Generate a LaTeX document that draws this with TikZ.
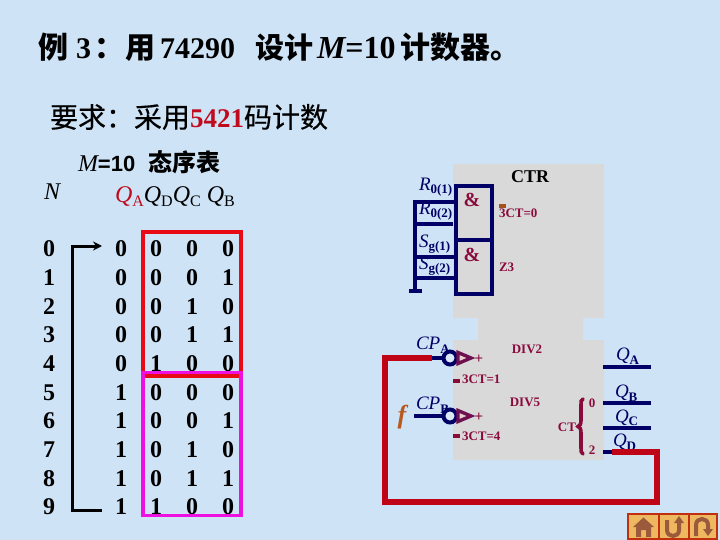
\documentclass[tikz,border=0pt]{standalone}
\usepackage{fontspec}
\usetikzlibrary{arrows.meta}
\setmainfont{Liberation Serif}
\setsansfont{Liberation Sans}
\newfontfamily\cjk{Noto Sans CJK SC}
\newfontfamily\cjkm[FakeBold=0.35]{Noto Sans CJK SC}
\definecolor{bgblue}{HTML}{CFE3F6}
\definecolor{ctrgray}{HTML}{D9D9D9}
\definecolor{navy}{HTML}{000066}
\definecolor{wine}{HTML}{8A0A3C}
\definecolor{wirered}{HTML}{C00418}
\definecolor{boxred}{HTML}{E80A14}
\definecolor{boxmag}{HTML}{EE10E0}
\definecolor{tri}{HTML}{6E1050}
\definecolor{fbrown}{HTML}{B85A20}
\definecolor{qred}{HTML}{C00A1E}
\definecolor{navfill}{HTML}{EDB860}
\definecolor{navedge}{HTML}{C03010}
\definecolor{navicon}{HTML}{9C5A3C}
\newcommand{\fs}[1]{\fontsize{#1}{#1}\selectfont}
\tikzset{
  txt/.style={inner sep=0pt,outer sep=0pt},
  digit/.style={txt,font=\fs{24}\bfseries,text=black},
  wine12/.style={txt,anchor=west,font=\fs{13}\bfseries,text=wine},
  sig/.style={txt,anchor=west,font=\fs{19}\itshape,text=navy},
  nwire/.style={draw=navy,line width=3.4pt},
  rwire/.style={draw=wirered,line width=5.4pt,line join=miter},
  ring/.style={circle,draw=navy,line width=4pt,minimum size=13pt,inner sep=0pt,fill=white!20!bgblue},
  clk/.style={draw=tri,line width=3.4pt,line join=miter,fill=ctrgray!60!pink},
  navbtn/.style={draw=navedge,line width=1.2pt,fill=navfill},
  navic/.style={draw=navicon,line width=4pt},
}
\newcommand{\subsz}[1]{\raisebox{-3.5pt}{\fs{13}\bfseries\upshape #1}}
\newcommand{\hs}[1]{\hspace{#1pt}}
\begin{document}
\begin{tikzpicture}[x=1pt,y=-1pt]
\useasboundingbox (0,0) rectangle (720,540);
\fill[bgblue] (0,0) rectangle (720,540);
% gray block
\fill[ctrgray] (453,164) -- (604,164) -- (604,318) -- (583,318) -- (583,340) -- (604,340) -- (604,460) -- (453,460) -- (453,340) -- (478,340) -- (478,318) -- (453,318) -- cycle;
% title
\node[txt,anchor=west] (title) at (38,47) {\cjk\bfseries\fs{30}例\hs{8}{\rmfamily 3}\hs{3}：\hs{2}用\hs{4}{\rmfamily 74290}\hs{20}{\fs{29}设计}\hs{4}{\rmfamily\fs{32}\itshape M\upshape =10}\hs{4.4}计数器。};
\node[txt,anchor=west] (req) at (50,117) {\cjkm\fs{28}要求：采用{\rmfamily\bfseries\color{qred}\fs{27}5421}{\fs{28}码计数}};
\node[txt,anchor=west] (tabt) at (78,162) {{\rmfamily\fs{24}\itshape M}{\sffamily\bfseries\fs{22}=10\hs{13}}{\cjk\bfseries\fs{24}态序表}};
\node[txt,anchor=west,font=\fs{24}\itshape] (nh) at (44,192) {N};
\node[txt,anchor=west,font=\fs{24}\itshape] (qh) at (115,197) {{\color{qred}Q{\upshape\raisebox{-4pt}{\fs{16}A}}}Q{\upshape\raisebox{-4pt}{\fs{16}D}}Q{\upshape\raisebox{-4pt}{\fs{16}C}} Q{\upshape\raisebox{-4pt}{\fs{16}B}}};
% table
\foreach \n/\a/\d/\c/\b [count=\i from 0] in {0/0/0/0/0,1/0/0/0/1,2/0/0/1/0,3/0/0/1/1,4/0/1/0/0,5/1/0/0/0,6/1/0/0/1,7/1/0/1/0,8/1/0/1/1,9/1/1/0/0}{
  \pgfmathsetmacro{\yy}{249+28.67*\i}
  \node[digit] (n\i) at (49,\yy) {\n};
  \node[digit] (a\i) at (121,\yy) {\a};
  \node[digit] (d\i) at (156,\yy) {\d};
  \node[digit] (c\i) at (192,\yy) {\c};
  \node[digit] (b\i) at (228,\yy) {\b};
}
% bracket
\coordinate (bt) at (102,246);
\coordinate (bb) at (102,510);
\draw[black,line width=3pt,-{Stealth[length=9pt,width=9pt]}] (bb) -- (72,510) -- (72,246) -- (bt);
% boxes
\draw[boxred,line width=3.6pt] (143,232) rectangle (241,376);
\draw[boxmag,line width=3.6pt] (143,373) rectangle (241,515.5);
\draw[boxred,line width=3.6pt] (144.8,376) -- (239.2,376);
% and boxes
\node[txt,font=\fs{18}\bfseries,text=black] (ctr) at (530,177) {CTR};
\draw[nwire,fill=none] (456,186) rectangle (492,294);
\draw[nwire] (456,240) -- (492,240);
\node[txt,font=\fs{20}\bfseries,text=wine] (amp1) at (472,200) {\&};
\node[txt,font=\fs{20}\bfseries,text=wine] (amp2) at (472,255) {\&};
% inputs
\node[sig] (r1) at (419,187) {R\subsz{0(1)}};
\node[sig] (r2) at (419,211) {R\subsz{0(2)}};
\node[sig] (s1) at (419,244) {S\subsz{g(1)}};
\node[sig] (s2) at (419,266) {S\subsz{g(2)}};
\coordinate (g) at (415,291);
\draw[nwire,line join=miter] (g) |- (456,202);
\draw[nwire] (415,224) -- (453,224);
\draw[nwire] (415,257) -- (456,257);
\draw[nwire] (415,278) -- (456,278);
\draw[navy,line width=4pt] (409,291) -- (422,291);
\fill[fbrown!90!black] (499,204) rectangle (506,208);
\node[wine12] (c0) at (499,213) {3CT=0};
\node[wine12] (z3) at (499,267) {Z3};
% clocks
\node[sig] (cpa) at (416,345) {CP\subsz{A}};
\node[sig] (cpb) at (416,405) {CP\subsz{B}};
\node[txt,font=\fs{26}\bfseries\itshape,text=fbrown] (f) at (402,417) {f};
\coordinate (awire) at (432,358);
\node[ring] (ra) at (450,358) {};
\node[ring] (rb) at (450,416) {};
\draw[nwire] (awire) -- (ra);
\coordinate (bwire) at (414,416);
\draw[nwire] (bwire) -- (rb);
\draw[clk] (458,352.5) -- (471,358) -- (458,363.5) -- cycle;
\draw[clk] (458,410.5) -- (471,416) -- (458,421.5) -- cycle;
\node[txt,font=\fs{15}\bfseries,text=wine] (pa) at (479,359) {+};
\node[txt,font=\fs{15}\bfseries,text=wine] (pb) at (479,417) {+};
\fill[wine] (453,379) rectangle (460,383);
\fill[wine] (453,434) rectangle (460,438);
\node[wine12] (c1) at (462,379) {3CT=1};
\node[wine12] (c4) at (462,436) {3CT=4};
\node[txt,font=\fs{13}\bfseries,text=wine] (div2) at (527,349) {DIV2};
\node[txt,font=\fs{13}\bfseries,text=wine] (div5) at (525,402) {DIV5};
\node[txt,font=\fs{13}\bfseries,text=wine] (ct) at (567,427) {CT};
\node[txt,font=\fs{13}\bfseries,text=wine] (t0) at (592,403) {0};
\node[txt,font=\fs{13}\bfseries,text=wine] (t2) at (592,450) {2};
\draw[wine,line width=3.6pt,line cap=round] (583,399) .. controls (581,399) and (581,402) .. (581,405) -- (581,420) .. controls (581,424) and (580,426) .. (578,426.5) .. controls (580,427) and (581,429) .. (581,433) -- (581,448) .. controls (581,451) and (581,453) .. (583,454);
% outputs
\node[sig] (qa) at (616,356) {Q\subsz{A}};
\node[sig] (qb) at (615,393) {Q\subsz{B}};
\node[sig] (qc) at (615,418) {Q\subsz{C}};
\node[sig] (qd) at (613,442) {Q\subsz{D}};
\draw[nwire] (603,367) -- (651,367);
\draw[nwire] (603,403) -- (651,403);
\draw[nwire] (603,428) -- (651,428);
\draw[nwire] (603,452) -- (613,452);
% feedback
\coordinate (fbstart) at (612,452);
\draw[rwire] (fbstart) -- (657,452) -- (657,502) -- (385,502) -- (385,358) -- (awire);
% nav
\draw[navbtn] (628,514) rectangle (659,539);
\draw[navbtn] (659,514) rectangle (689,539);
\draw[navbtn] (689,514) rectangle (717,539);
\fill[navicon] (633,527) -- (643.5,517.5) -- (654,527) -- cycle;
\fill[navicon,even odd rule] (636,527) rectangle (651,537) (641,530) rectangle (646,537);
\draw[navic,fill=none] (667,520) -- (667,530) .. controls (667,538) and (679,538) .. (679,530) -- (679,522);
\fill[navicon] (674,523) -- (679,516) -- (684,523) -- cycle;
\draw[navic,fill=none] (696,536) -- (696,525) .. controls (696,517) and (708,517) .. (708,525) -- (708,530);
\fill[navicon] (703,529) -- (708,536) -- (713,529) -- cycle;
\end{tikzpicture}
\end{document}
